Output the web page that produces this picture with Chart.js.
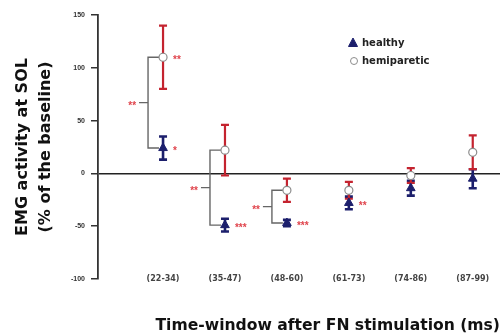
<!DOCTYPE html>
<html>
<head>
<meta charset="utf-8">
<script src="https://cdn.jsdelivr.net/npm/chart.js@4.4.1/dist/chart.umd.min.js"></script>
<style>
  html, body { margin: 0; padding: 0; background: #fff; }
  #wrap { width: 500px; height: 335px; }
</style>
</head>
<body>
<div id="wrap"><canvas id="emgChart" width="500" height="335"></canvas></div>
<script>
// time windows after FN stimulation (ms)
const windows = ["(22-34)", "(35-47)", "(48-60)", "(61-73)", "(74-86)", "(87-99)"];

// EMG activity at SOL, % of baseline: mean and error
const healthyMean = [24, -49, -47, -28, -14, -5];
const healthyErr = [11, 6, 3, 6, 7, 9];
const hemiMean = [110, 22, -16, -16, -2, 20];
const hemiErr = [30, 24, 11, 8, 7, 16];

// significance marks
const healthyStars = ["*", "***", "***", "**", "", ""];
const hemiStars = ["**", "", "", "", "", ""];
const betweenStars = ["**", "**", "**", "", "", ""];

const yTicks = [-100, -50, 0, 50, 100, 150];

const WIDE = "'DejaVu Sans', Verdana, sans-serif";
const FONT = "'Liberation Sans', Arial, sans-serif";
const NAVY = "#1c1f6c";
const RED = "#c4232f";
const STAR = "#e0444c";

// brackets + vertical error bars with caps, under the markers
const errorBars = {
  id: "errorBars",
  beforeDatasetsDraw(chart) {
    const { ctx, scales: { x, y } } = chart;
    const groups = [
      { mean: healthyMean, err: healthyErr, color: NAVY, width: 2.6 },
      { mean: hemiMean, err: hemiErr, color: RED, width: 2.2 }
    ];
    ctx.save();
    ctx.strokeStyle = "#666";
    ctx.lineWidth = 1.4;
    betweenStars.forEach((s, i) => {
      if (!s) return;
      const px = x.getPixelForValue(i);
      const bx = px - 15;
      const yA = y.getPixelForValue(hemiMean[i]);
      const yB = y.getPixelForValue(healthyMean[i]);
      const ym = (yA + yB) / 2;
      ctx.beginPath();
      ctx.moveTo(px - 4, yA);
      ctx.lineTo(bx, yA);
      ctx.lineTo(bx, yB);
      ctx.lineTo(px - 4, yB);
      ctx.moveTo(bx, ym);
      ctx.lineTo(bx - 9, ym);
      ctx.stroke();
    });
    groups.forEach(g => {
      ctx.strokeStyle = g.color;
      ctx.lineWidth = g.width;
      g.mean.forEach((m, i) => {
        const px = x.getPixelForValue(i);
        const top = y.getPixelForValue(m + g.err[i]);
        const bot = y.getPixelForValue(m - g.err[i]);
        ctx.beginPath();
        ctx.moveTo(px, top); ctx.lineTo(px, bot);
        ctx.moveTo(px - 4, top); ctx.lineTo(px + 4, top);
        ctx.moveTo(px - 4, bot); ctx.lineTo(px + 4, bot);
        ctx.stroke();
      });
    });
    ctx.restore();
  }
};

// asterisks next to markers and brackets, window labels on the -100 line
const sigMarks = {
  id: "sigMarks",
  afterDatasetsDraw(chart) {
    const { ctx, scales: { x, y } } = chart;
    ctx.save();
    ctx.font = "bold 10px " + FONT;
    ctx.fillStyle = STAR;
    ctx.textBaseline = "alphabetic";
    ctx.textAlign = "left";
    healthyStars.forEach((s, i) => {
      if (s) ctx.fillText(s, x.getPixelForValue(i) + 10, y.getPixelForValue(healthyMean[i]) + 6);
    });
    hemiStars.forEach((s, i) => {
      if (s) ctx.fillText(s, x.getPixelForValue(i) + 10, y.getPixelForValue(hemiMean[i]) + 6);
    });
    ctx.textAlign = "right";
    betweenStars.forEach((s, i) => {
      if (!s) return;
      const ym = (y.getPixelForValue(hemiMean[i]) + y.getPixelForValue(healthyMean[i])) / 2;
      ctx.fillText(s, x.getPixelForValue(i) - 27, ym + 6);
    });

    ctx.font = "bold 8px " + WIDE;
    ctx.fillStyle = "#444";
    ctx.textAlign = "center";
    ctx.textBaseline = "middle";
    const yl = y.getPixelForValue(yTicks[0]);
    windows.forEach((w, i) => ctx.fillText(w, x.getPixelForValue(i), yl));
    ctx.restore();
  }
};

// small legend inside the plot
const markerLegend = {
  id: "markerLegend",
  afterDraw(chart, args, opts) {
    const { ctx } = chart;
    ctx.save();
    ctx.font = "bold 10px " + WIDE;
    ctx.textBaseline = "middle";
    ctx.textAlign = "left";
    chart.data.datasets.forEach((ds, i) => {
      const cx = opts.x;
      const cy = opts.y + i * opts.rowGap;
      ctx.fillStyle = ds.backgroundColor;
      ctx.strokeStyle = ds.borderColor;
      ctx.lineWidth = 1;
      ctx.beginPath();
      if (ds.pointStyle === "triangle") {
        ctx.moveTo(cx, cy - 5);
        ctx.lineTo(cx + 4.5, cy + 3.5);
        ctx.lineTo(cx - 4.5, cy + 3.5);
        ctx.closePath();
      } else {
        ctx.arc(cx + 1, cy, 3.5, 0, Math.PI * 2);
      }
      ctx.fill();
      ctx.stroke();
      ctx.fillStyle = "#222";
      ctx.fillText(ds.label, cx + 9, cy);
    });
    ctx.restore();
  }
};

new Chart(document.getElementById("emgChart"), {
  type: "scatter",
  data: {
    datasets: [
      {
        label: "healthy",
        data: healthyMean.map((v, i) => ({ x: i, y: v })),
        pointStyle: "triangle",
        pointRadius: 5,
        backgroundColor: NAVY,
        borderColor: NAVY,
        borderWidth: 1
      },
      {
        label: "hemiparetic",
        data: hemiMean.map((v, i) => ({ x: i, y: v })),
        pointStyle: "circle",
        pointRadius: 4,
        backgroundColor: "#ffffff",
        borderColor: "#8c8c8c",
        borderWidth: 1.2
      }
    ]
  },
  plugins: [errorBars, sigMarks, markerLegend],
  options: {
    responsive: false,
    animation: false,
    events: [],
    layout: { autoPadding: false, padding: { top: 15, right: 0, bottom: 0, left: 0 } },
    plugins: {
      legend: { display: false },
      tooltip: { enabled: false },
      markerLegend: { x: 353, y: 43, rowGap: 18 }
    },
    scales: {
      x: {
        type: "linear",
        min: -1.05,
        max: 5.44,
        afterFit: s => { s.height = 56; },
        grid: { display: false, drawTicks: false },
        border: { display: false },
        ticks: { display: false },
        title: {
          display: true,
          text: "Time-window after FN stimulation (ms)",
          align: "end",
          color: "#111",
          font: { family: WIDE, size: 15.6, weight: "bold", lineHeight: 1.2 },
          padding: 0
        }
      },
      y: {
        min: -100,
        max: 150,
        afterBuildTicks: s => { s.ticks = yTicks.map(v => ({ value: v })); },
        afterFit: s => { s.width = 98; },
        grid: {
          color: c => (c.tick && c.tick.value === 0 ? "#222" : "rgba(0,0,0,0)"),
          lineWidth: 1.5,
          tickColor: "#333",
          tickLength: 7
        },
        border: { display: true, color: "#333", width: 1.8 },
        ticks: {
          font: { family: FONT, size: 7, weight: "bold" },
          color: "#333",
          padding: 6
        },
        title: {
          display: true,
          text: ["EMG activity at SOL", "(% of the baseline)"],
          color: "#111",
          font: { family: WIDE, size: 16, weight: "bold", lineHeight: 1.4 },
          padding: { top: 12, bottom: 0 }
        }
      }
    }
  }
});
</script>
</body>
</html>
